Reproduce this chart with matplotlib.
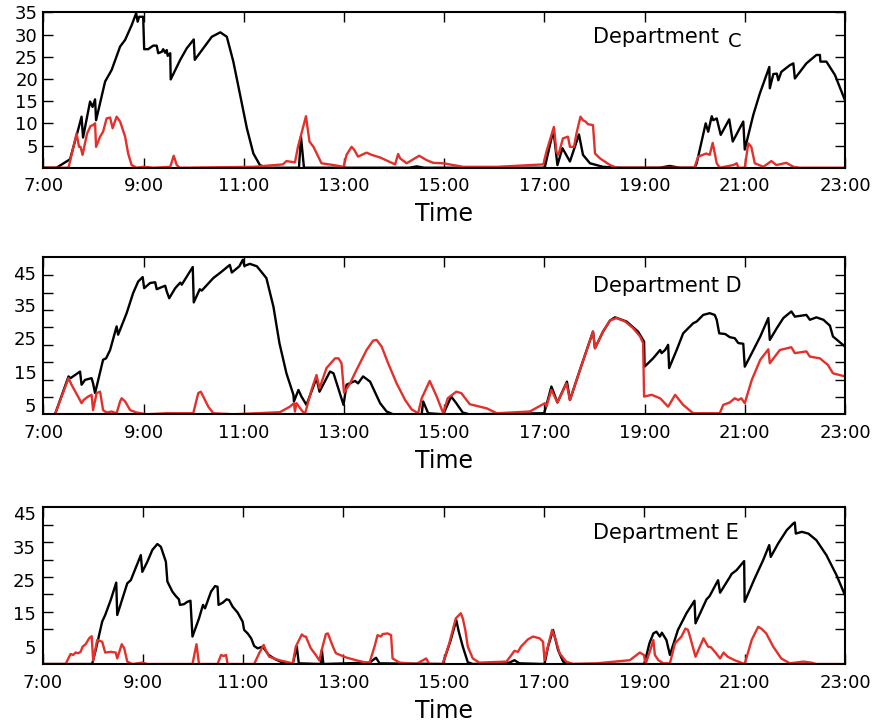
import numpy as np
import matplotlib
matplotlib.use("Agg")
import matplotlib.pyplot as plt

# hour of day, value
c_black = [(7.0, 0), (7.26, 0), (7.53, 1.9), (7.70, 8.9), (7.76, 11.5), (7.79, 6.8), (7.93, 14.9),
           (7.98, 13.7), (8.03, 15.4), (8.05, 10.7), (8.23, 19.4), (8.36, 22.0), (8.53, 27.3),
           (8.63, 28.8), (8.76, 32.1), (8.85, 34.8), (8.88, 32.9), (8.91, 34.0), (8.99, 34.0),
           (9.01, 26.7), (9.09, 26.7), (9.19, 27.5), (9.26, 27.5), (9.29, 25.8), (9.36, 26.1),
           (9.39, 26.7), (9.43, 25.9), (9.46, 26.5), (9.48, 25.2), (9.53, 25.8), (9.54, 19.9),
           (9.73, 24.3), (9.86, 26.9), (10.0, 28.9), (10.02, 24.3), (10.19, 26.9), (10.36, 29.5),
           (10.53, 30.5), (10.66, 29.5), (10.79, 23.9), (10.92, 16.7), (11.06, 8.9), (11.19, 3.2),
           (11.32, 0.6), (11.45, 0), (12.10, 0), (12.14, 7.0), (12.20, 0), (14.3, 0), (14.45, 0.3),
           (14.6, 0), (16.98, 0), (17.01, 0.2), (17.18, 8.5), (17.26, 0.6), (17.36, 4.4),
           (17.51, 1.4), (17.69, 7.5), (17.77, 2.9), (17.91, 1.0), (18.17, 0.2), (18.5, 0),
           (19.3, 0), (19.5, 0.4), (19.7, 0), (20.0, 0), (20.04, 1.0), (20.22, 10.0), (20.27, 8.1),
           (20.34, 11.6), (20.37, 10.7), (20.44, 11.1), (20.52, 7.4), (20.69, 10.9), (20.76, 5.9),
           (20.97, 10.4), (21.0, 4.1), (21.17, 11.9), (21.30, 16.7), (21.49, 22.7), (21.50, 17.9),
           (21.57, 21.1), (21.64, 21.2), (21.67, 19.7), (21.73, 21.6), (21.90, 23.1), (21.97, 23.5),
           (22.0, 20.1), (22.23, 23.5), (22.43, 25.4), (22.50, 25.4), (22.51, 23.9), (22.63, 23.9),
           (22.80, 20.9), (23.0, 15.2)]
c_red = [(7.0, 0), (7.50, 0), (7.66, 7.7), (7.71, 4.7), (7.74, 4.7), (7.78, 2.9), (7.87, 7.7),
         (7.94, 9.4), (7.99, 9.6), (8.03, 10.0), (8.05, 4.7), (8.13, 7.0), (8.19, 8.1), (8.26, 11.1),
         (8.33, 11.3), (8.38, 8.9), (8.46, 11.5), (8.53, 10.4), (8.63, 7.0), (8.69, 3.2), (8.76, 0.6),
         (8.86, 0), (9.0, 0.2), (9.2, 0), (9.53, 0.2), (9.60, 2.7), (9.66, 0.6), (9.72, 0),
         (10.4, 0.1), (11.19, 0.2), (11.78, 0.75), (11.85, 1.5), (12.02, 1.2), (12.08, 4.7),
         (12.24, 11.6), (12.31, 5.9), (12.39, 4.7), (12.55, 1.0), (12.79, 0.6), (12.99, 0.2),
         (13.05, 2.9), (13.15, 4.7), (13.20, 4.1), (13.28, 2.5), (13.45, 3.4), (13.55, 2.9),
         (13.72, 2.3), (14.02, 0.75), (14.08, 3.1), (14.12, 2.1), (14.25, 1.0), (14.50, 2.7),
         (14.65, 1.7), (14.78, 1.1), (14.98, 1.0), (15.38, 0.2), (16.05, 0.2), (16.98, 0.75),
         (17.04, 3.6), (17.19, 9.2), (17.24, 3.6), (17.28, 2.9), (17.37, 6.6), (17.47, 7.0),
         (17.51, 4.7), (17.59, 4.7), (17.64, 7.7), (17.72, 11.5), (17.77, 10.7), (17.82, 10.4),
         (17.87, 9.8), (17.97, 9.6), (18.01, 3.2), (18.11, 2.1), (18.31, 0.6), (18.44, 0),
         (19.97, 0), (20.0, 0.2), (20.07, 2.5), (20.23, 3.2), (20.30, 2.9), (20.36, 5.6),
         (20.44, 1.0), (20.50, 0), (20.77, 0.6), (20.84, 1.0), (20.87, 0), (21.0, 0), (21.07, 5.5),
         (21.13, 4.7), (21.20, 1.0), (21.37, 0.2), (21.53, 1.5), (21.63, 0.6), (21.83, 1.1),
         (21.97, 0.2), (22.1, 0), (23.0, 0)]

d_black = [(7.0, 0), (7.23, 0), (7.50, 10.9), (7.54, 10.4), (7.73, 12.3), (7.76, 8.5), (7.83, 9.9),
           (7.96, 10.4), (7.99, 8.9), (8.03, 6.1), (8.19, 15.7), (8.25, 16.1), (8.33, 18.5),
           (8.46, 25.3), (8.49, 22.9), (8.66, 29.1), (8.79, 34.9), (8.89, 38.2), (8.98, 39.5),
           (9.01, 36.3), (9.13, 37.8), (9.23, 38.0), (9.26, 36.0), (9.36, 36.6), (9.43, 37.0),
           (9.46, 35.4), (9.51, 33.4), (9.63, 36.3), (9.73, 37.9), (9.76, 37.3), (9.98, 42.4),
           (10.00, 32.2), (10.12, 36.0), (10.16, 35.6), (10.39, 39.2), (10.56, 41.1), (10.72, 43.0),
           (10.76, 40.8), (10.91, 42.6), (10.98, 44.5), (11.01, 42.7), (11.12, 43.3), (11.26, 42.6),
           (11.45, 39.2), (11.59, 31.0), (11.71, 20.5), (11.85, 11.8), (11.99, 5.6), (12.00, 3.7),
           (12.09, 7.0), (12.15, 5.1), (12.25, 2.7), (12.45, 10.4), (12.51, 6.5), (12.72, 12.3),
           (12.79, 11.8), (12.99, 2.7), (13.05, 8.5), (13.22, 9.6), (13.28, 8.9), (13.38, 10.9),
           (13.52, 9.4), (13.72, 3.2), (13.85, 0.8), (13.98, 0), (14.55, 0), (14.58, 3.7),
           (14.68, 0.3), (14.98, 0), (15.14, 5.1), (15.24, 3.2), (15.37, 0.5), (15.5, 0),
           (16.98, 0.3), (17.0, 0.5), (17.14, 8.0), (17.26, 3.4), (17.45, 9.4), (17.51, 4.1),
           (17.71, 12.8), (17.97, 23.8), (18.01, 19.0), (18.17, 23.8), (18.31, 27.0), (18.41, 27.9),
           (18.64, 26.7), (18.87, 23.8), (18.99, 20.9), (19.0, 13.7), (19.17, 16.1), (19.31, 18.5),
           (19.34, 17.6), (19.41, 18.5), (19.47, 20.0), (19.49, 13.3), (19.64, 18.5), (19.77, 23.3),
           (19.97, 26.2), (20.04, 26.7), (20.17, 28.6), (20.30, 29.1), (20.40, 28.6), (20.44, 27.2),
           (20.49, 23.3), (20.61, 23.1), (20.70, 22.2), (20.80, 21.9), (20.87, 20.5), (20.97, 20.3),
           (21.0, 13.7), (21.14, 17.6), (21.31, 22.4), (21.47, 27.7), (21.50, 21.4), (21.64, 24.8),
           (21.77, 27.7), (21.93, 29.6), (22.0, 28.1), (22.23, 28.6), (22.30, 27.2), (22.43, 27.9),
           (22.57, 27.2), (22.70, 25.5), (22.76, 22.4), (23.0, 19.5)]
d_red = [(7.0, 0), (7.23, 0), (7.50, 10.4), (7.56, 8.5), (7.69, 5.1), (7.76, 3.2), (7.80, 4.1),
         (7.89, 5.1), (7.96, 5.6), (7.99, 1.2), (8.06, 6.1), (8.13, 6.5), (8.19, 1.2), (8.26, 0.5),
         (8.36, 0.8), (8.46, 0.3), (8.53, 3.7), (8.56, 4.6), (8.63, 3.7), (8.73, 1.2), (8.86, 0.5),
         (9.06, 0), (9.46, 0.3), (9.99, 0.3), (10.09, 6.1), (10.14, 6.5), (10.19, 5.1), (10.29, 2.2),
         (10.39, 0.3), (10.79, 0), (11.72, 0.6), (11.92, 2.2), (12.00, 3.2), (12.02, 0.8),
         (12.05, 3.2), (12.15, 1.2), (12.22, 0.1), (12.35, 7.0), (12.45, 11.3), (12.51, 7.5),
         (12.65, 13.3), (12.82, 16.1), (12.89, 16.1), (12.95, 14.7), (13.00, 6.2), (13.12, 8.9),
         (13.25, 12.8), (13.45, 18.5), (13.58, 21.2), (13.65, 21.4), (13.75, 19.5), (13.88, 14.7),
         (14.05, 8.9), (14.22, 4.1), (14.35, 1.4), (14.48, 0.3), (14.55, 4.6), (14.71, 9.6),
         (14.85, 5.1), (14.98, 0.3), (15.07, 4.6), (15.24, 6.5), (15.34, 6.1), (15.51, 2.9),
         (15.85, 1.7), (16.05, 0.3), (16.71, 0.8), (17.01, 3.2), (17.04, 2.2), (17.14, 7.0),
         (17.26, 3.4), (17.44, 8.9), (17.51, 4.1), (17.71, 12.8), (17.97, 23.8), (18.01, 19.0),
         (18.17, 23.8), (18.31, 27.0), (18.44, 27.7), (18.61, 26.7), (18.77, 24.8), (18.91, 22.4),
         (18.97, 20.5), (18.99, 5.1), (19.14, 5.6), (19.31, 4.6), (19.47, 2.2), (19.61, 5.6),
         (19.77, 2.7), (19.97, 0.3), (20.50, 0.3), (20.57, 2.7), (20.70, 3.4), (20.80, 4.6),
         (20.87, 4.1), (20.93, 4.6), (21.0, 3.2), (21.14, 9.9), (21.31, 15.7), (21.47, 18.7),
         (21.50, 14.7), (21.70, 18.5), (21.93, 19.3), (22.0, 17.6), (22.23, 18.1), (22.30, 16.6),
         (22.50, 16.1), (22.66, 14.2), (22.76, 11.8), (23.0, 10.9)]

e_black = [(7.0, 0), (7.99, 0), (8.06, 4.0), (8.19, 12.2), (8.25, 14.1), (8.36, 18.4), (8.47, 23.4),
           (8.49, 14.1), (8.69, 23.2), (8.76, 24.1), (8.96, 31.3), (8.99, 26.5), (9.09, 29.4),
           (9.19, 32.8), (9.29, 34.5), (9.36, 33.7), (9.46, 29.4), (9.49, 23.7), (9.59, 20.8),
           (9.66, 19.5), (9.72, 18.6), (9.74, 17.0), (9.82, 17.2), (9.89, 17.9), (9.95, 18.2),
           (9.99, 7.9), (10.12, 13.1), (10.20, 17.0), (10.24, 16.0), (10.36, 20.8), (10.44, 22.4),
           (10.49, 22.2), (10.51, 17.0), (10.59, 17.6), (10.67, 18.6), (10.72, 18.4), (10.79, 16.5),
           (10.89, 14.8), (10.99, 12.2), (11.02, 9.8), (11.09, 8.8), (11.16, 7.4), (11.22, 5.2),
           (11.29, 4.5), (11.39, 5.0), (11.51, 2.6), (11.65, 1.3), (11.79, 0.4), (11.99, 0),
           (12.07, 5.0), (12.11, 0.2), (12.55, 0), (12.57, 4.0), (12.60, 0), (13.52, 0.4),
           (13.65, 1.8), (13.72, 0.2), (14.98, 0), (15.14, 6.9), (15.25, 12.6), (15.30, 9.3),
           (15.38, 5.0), (15.48, 0.5), (15.58, 0), (16.31, 0.4), (16.41, 1.1), (16.51, 0.2),
           (17.01, 0), (17.08, 5.0), (17.18, 9.8), (17.28, 4.0), (17.38, 0.7), (17.51, 0), (19.0, 0),
           (19.10, 5.9), (19.18, 8.8), (19.24, 9.3), (19.31, 7.9), (19.35, 9.0), (19.44, 6.9),
           (19.51, 2.6), (19.67, 9.8), (19.84, 14.6), (20.0, 18.2), (20.02, 11.7), (20.24, 18.6),
           (20.30, 19.5), (20.47, 24.1), (20.51, 20.5), (20.70, 24.9), (20.74, 25.9), (20.84, 27.0),
           (20.99, 29.6), (21.0, 17.9), (21.20, 24.6), (21.37, 29.9), (21.49, 34.2), (21.52, 30.8),
           (21.67, 34.7), (21.84, 38.5), (21.97, 40.4), (22.0, 40.7), (22.02, 37.5), (22.14, 38.0),
           (22.27, 37.5), (22.43, 35.6), (22.63, 31.3), (22.83, 25.6), (23.0, 19.8)]
e_red = [(7.0, 0), (7.46, 0), (7.56, 2.9), (7.61, 2.6), (7.66, 3.3), (7.71, 3.1), (7.76, 3.5),
         (7.80, 5.0), (7.86, 5.7), (7.93, 7.4), (7.98, 8.0), (8.01, 1.0), (8.09, 6.9), (8.19, 6.4),
         (8.25, 3.3), (8.36, 3.5), (8.46, 3.3), (8.49, 1.6), (8.58, 5.7), (8.63, 4.5), (8.69, 0.7),
         (8.79, 0), (8.99, 0.4), (9.09, 0), (9.99, 0), (10.07, 5.7), (10.12, 0), (10.49, 0),
         (10.56, 2.6), (10.61, 2.3), (10.66, 2.6), (10.69, 0), (11.22, 0), (11.32, 3.1),
         (11.41, 5.5), (11.45, 4.0), (11.52, 2.1), (11.72, 1.1), (11.99, 0.2), (12.05, 5.0),
         (12.17, 8.5), (12.22, 7.9), (12.25, 7.9), (12.35, 4.5), (12.45, 2.6), (12.52, 1.0),
         (12.57, 4.2), (12.65, 8.6), (12.69, 8.8), (12.79, 5.0), (12.85, 3.1), (13.05, 1.9),
         (13.25, 1.1), (13.45, 0.4), (13.52, 0.4), (13.62, 5.0), (13.68, 8.3), (13.75, 7.9),
         (13.78, 8.6), (13.88, 8.8), (13.95, 8.3), (13.98, 1.6), (14.12, 0.4), (14.45, 0),
         (14.65, 1.6), (14.71, 0), (14.98, 0), (15.11, 5.9), (15.24, 13.1), (15.34, 14.6),
         (15.38, 13.1), (15.43, 9.8), (15.48, 5.0), (15.58, 1.6), (15.71, 0.4), (16.25, 0.7),
         (16.35, 2.6), (16.41, 3.8), (16.48, 3.5), (16.54, 5.0), (16.68, 7.1), (16.78, 7.9),
         (16.91, 7.4), (16.98, 6.4), (17.01, 1.1), (17.16, 9.8), (17.23, 7.1), (17.31, 3.1),
         (17.44, 0.7), (17.58, 0), (18.05, 0.2), (18.71, 1.1), (18.91, 3.3), (18.99, 2.6),
         (19.03, 0.2), (19.14, 5.0), (19.18, 6.9), (19.21, 2.6), (19.28, 1.1), (19.38, 0.2),
         (19.51, 0.2), (19.61, 5.9), (19.74, 7.9), (19.82, 10.2), (19.87, 9.8), (19.91, 7.9),
         (20.02, 2.1), (20.18, 7.4), (20.27, 5.0), (20.33, 4.8), (20.43, 3.1), (20.51, 1.6),
         (20.58, 3.3), (20.66, 2.1), (20.80, 1.1), (21.0, 0), (21.14, 6.9), (21.27, 10.7),
         (21.33, 10.2), (21.43, 8.8), (21.57, 5.0), (21.73, 1.6), (21.90, 0.2), (22.17, 0.7),
         (22.33, 0.4), (22.43, 0), (23.0, 0)]

hour_ticks = [7, 9, 11, 13, 15, 17, 19, 21, 23]
hour_labels = ["7:00", "9:00", "11:00", "13:00", "15:00", "17:00", "19:00", "21:00", "23:00"]

RED = "#e3302a"

fig = plt.figure(figsize=(8.82, 7.22), dpi=100)
boxes = [[0.0493, 0.7677, 0.9087, 0.2152],
         [0.0493, 0.4262, 0.9087, 0.2175],
         [0.0482, 0.0803, 0.9098, 0.2168]]

panels = [
    (c_black, c_red, "Department", "C", 35.0),
    (d_black, d_red, "Department D", None, 45.2),
    (e_black, e_red, "Department E", None, 45.0),
]

for i, (blk, red, name, sub, ytop) in enumerate(panels):
    ax = fig.add_axes(boxes[i])
    bt, bv = zip(*blk)
    rt, rv = zip(*red)
    ax.plot(bt, bv, color="black", lw=1.7)
    ax.plot(rt, rv, color=RED, lw=1.7)
    ax.set_xlim(7, 23)
    ax.set_ylim(0, ytop)
    ax.set_xticks(hour_ticks)
    ax.set_xticklabels(hour_labels)
    ax.set_xlabel("Time", fontsize=17, labelpad=5)

    if i == 0:
        ax.set_yticks([5, 10, 15, 20, 25, 30, 35])
        ax.tick_params(axis="y", which="major", direction="in", length=7, width=1,
                       left=True, right=True, labelsize=13, pad=4)
    else:
        # labels sit between the tick marks in the original
        if i == 1:
            lab_pos = [2.7, 12.1, 21.9, 31.5, 40.8]
        else:
            lab_pos = [5.0, 14.6, 24.1, 33.7, 43.3]
        ax.set_yticks(lab_pos)
        ax.set_yticklabels(["5", "15", "25", "35", "45"])
        ax.set_yticks(np.arange(5, 45, 5), minor=True)
        ax.tick_params(axis="y", which="major", length=0, labelsize=13, pad=5)
        ax.tick_params(axis="y", which="minor", direction="in", length=7, width=1,
                       left=True, right=True)

    ax.tick_params(axis="x", direction="in", length=7, width=1, top=True, bottom=True,
                   labelsize=13, pad=7)
    for sp in ax.spines.values():
        sp.set_linewidth(1.5)

    ax.text(0.6856, 0.80 if i != 1 else 0.781, name, transform=ax.transAxes,
            fontsize=15, va="baseline", ha="left")
    if sub:
        ax.text(0.8537, 0.78, sub, transform=ax.transAxes,
                fontsize=14, va="baseline", ha="left")

fig.savefig("out.png", dpi=100)
